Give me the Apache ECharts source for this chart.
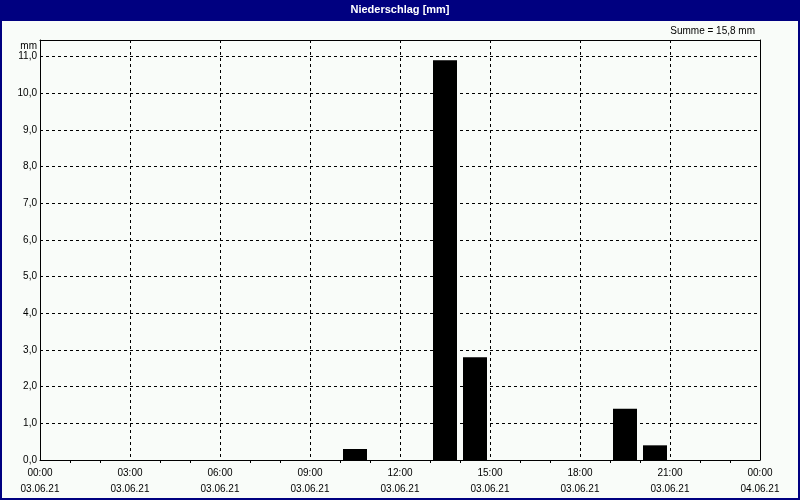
<!DOCTYPE html>
<html>
<head>
<meta charset="utf-8">
<script src="https://cdn.jsdelivr.net/npm/echarts@6/dist/echarts.min.js"></script>
<style>
  html, body { margin: 0; padding: 0; background: #f9fcf9; }
  #chart { width: 800px; height: 500px; }
</style>
</head>
<body>
<div id="chart"></div>
<script>
// hourly precipitation, start hour of each bar + amount in mm
const hourStart = [10, 13, 14, 19, 20];
const rainMm = [0.3, 10.9, 2.8, 1.4, 0.4];
const dayLabels = ['03.06.21', '04.06.21'];
const titleText = 'Niederschlag [mm]';
const sumText = 'Summe = 15,8 mm';

const navy = '#000080';
const chart = echarts.init(document.getElementById('chart'));

function pad(n) { return (n < 10 ? '0' : '') + n; }

// frame-only axis (top / right)
const frameLine = { show: true, onZero: false, lineStyle: { color: '#000', width: 1 } };

let option = {
  backgroundColor: '#f9fcf9',
  animation: false,
  textStyle: { fontFamily: 'Liberation Sans' },
  grid: { left: 40, right: 40, top: 40, bottom: 40 },
  graphic: [
    { type: 'rect', shape: { x: 1, y: 1, width: 798, height: 498 }, style: { fill: 'none', stroke: navy, lineWidth: 2 }, silent: true },
    { type: 'rect', shape: { x: 0, y: 0, width: 800, height: 21 }, style: { fill: navy }, silent: true },
    { type: 'text', x: 400, y: 10, style: { text: titleText, fill: '#fff', font: 'bold 11px "Liberation Sans"', textAlign: 'center', textVerticalAlign: 'middle' }, silent: true },
    { type: 'text', x: 755, y: 31, style: { text: sumText, fill: '#000', font: '10px "Liberation Sans"', textAlign: 'right', textVerticalAlign: 'middle' }, silent: true },
    { type: 'text', x: 37, y: 46, style: { text: 'mm', fill: '#000', font: '10px "Liberation Sans"', textAlign: 'right', textVerticalAlign: 'middle' }, silent: true }
  ],
  xAxis: [
    {
      type: 'value',
      min: 0, max: 24, interval: 3,
      axisLine: { onZero: false, lineStyle: { color: '#000', width: 1 } },
      axisTick: { show: false },
      minorTick: { show: true, splitNumber: 3, length: 3, lineStyle: { color: '#000', width: 1 } },
      splitLine: { show: true, lineStyle: { color: '#000', type: [3, 3], width: 1 } },
      axisLabel: {
        color: '#000', fontSize: 10, lineHeight: 16, margin: 5,
        formatter: function (v) {
          const day = v >= 24 ? dayLabels[1] : dayLabels[0];
          return pad(v % 24) + ':00\n' + day;
        }
      }
    },
    {
      type: 'value', position: 'top', min: 0, max: 24, z: 10,
      axisLine: frameLine, axisTick: { show: false }, axisLabel: { show: false }, splitLine: { show: false }
    }
  ],
  yAxis: [
    {
      type: 'value',
      min: 0, max: 11.45, interval: 1,
      axisLine: { show: true, onZero: false, lineStyle: { color: '#000', width: 1 } },
      axisTick: { show: false },
      splitLine: { show: true, lineStyle: { color: '#000', type: [3, 3], width: 1 } },
      axisLabel: {
        color: '#000', fontSize: 10, margin: 3,
        formatter: function (v) {
          if (v > 11) return '';
          return v.toFixed(1).replace('.', ',');
        }
      }
    },
    {
      type: 'value', position: 'right', min: 0, max: 11.45, z: 10,
      axisLine: frameLine, axisTick: { show: false }, axisLabel: { show: false }, splitLine: { show: false }
    }
  ],
  series: [
    {
      type: 'bar',
      barWidth: 24,
      itemStyle: { color: '#000' },
      data: hourStart.map((h, i) => [h + 0.5, rainMm[i]])
    }
  ]
};
chart.setOption(option);
</script>
</body>
</html>
